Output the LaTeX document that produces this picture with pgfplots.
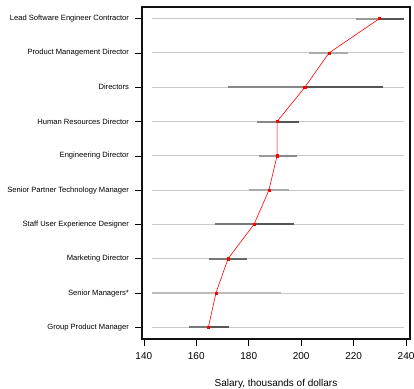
\documentclass[border=0pt]{standalone}
\usepackage{pgfplots}
\pgfplotsset{compat=1.18}
\usepackage{fontspec}
\setmainfont{Liberation Sans}
\definecolor{refline}{HTML}{C8C8C8}
\definecolor{gA}{HTML}{999999}
\definecolor{gB}{HTML}{555555}
\definecolor{gC}{HTML}{AAAAAA}
\definecolor{gD}{HTML}{888888}
\definecolor{gE}{HTML}{777777}
\definecolor{gF}{HTML}{666666}
\definecolor{gG}{HTML}{BBBBBB}
\definecolor{boxc}{HTML}{111111}
\begin{document}
\begin{tikzpicture}
\useasboundingbox (-142pt,-49pt) rectangle (272pt,339pt);
\begin{axis}[
  at={(0pt,0pt)}, anchor=south west,
  scale only axis,
  width=268pt, height=332pt,
  xmin=139.3, xmax=241.5,
  ymin=-0.34, ymax=9.34,
  clip=false,
  xtick={140,160,180,200,220,240},
  ytick={0,1,2,3,4,5,6,7,8,9},
  yticklabels={Group Product Manager, Senior Managers*, Marketing Director, Staff User Experience Designer, Senior Partner Technology Manager, Engineering Director, Human Resources Director, Directors, Product Management Director, Lead Software Engineer Contractor},
  tick align=outside,
  xtick pos=left, ytick pos=left,
  major tick length=7pt,
  tick style={black, line width=0.6pt},
  /pgf/number format/assume math mode=true,
  xticklabel style={font=\fontsize{10}{12}\selectfont, yshift=-3pt},
  yticklabel style={font=\fontsize{7.6}{9}\selectfont, xshift=-2.5pt},
  xlabel={Salary, thousands of dollars},
  xlabel style={font=\fontsize{10}{12}\selectfont, at={(axis description cs:0.5,0)}, anchor=base, yshift=-47pt},
]
% reference lines
\addplot[refline, line width=1pt, forget plot] coordinates {(143.2,9) (239.2,9)};
\addplot[refline, line width=1pt, forget plot] coordinates {(143.2,8) (239.2,8)};
\addplot[refline, line width=1pt, forget plot] coordinates {(143.2,7) (239.2,7)};
\addplot[refline, line width=1pt, forget plot] coordinates {(143.2,6) (239.2,6)};
\addplot[refline, line width=1pt, forget plot] coordinates {(143.2,5) (239.2,5)};
\addplot[refline, line width=1pt, forget plot] coordinates {(143.2,4) (239.2,4)};
\addplot[refline, line width=1pt, forget plot] coordinates {(143.2,3) (239.2,3)};
\addplot[refline, line width=1pt, forget plot] coordinates {(143.2,2) (239.2,2)};
\addplot[refline, line width=1pt, forget plot] coordinates {(143.2,1) (239.2,1)};
\addplot[refline, line width=1pt, forget plot] coordinates {(143.2,0) (239.2,0)};
% intervals: lower half and upper half
\addplot[gA, line width=2pt] coordinates {(221.0,9) (229.8,9)};
\addplot[gB, line width=2pt] coordinates {(229.8,9) (239.2,9)};
\addplot[gC, line width=2pt] coordinates {(203.1,8) (210.6,8)};
\addplot[gC, line width=2pt] coordinates {(210.6,8) (218.0,8)};
\addplot[gD, line width=2pt] coordinates {(172.0,7) (201.4,7)};
\addplot[gB, line width=2pt] coordinates {(201.4,7) (231.1,7)};
\addplot[gD, line width=2pt] coordinates {(183.0,6) (190.8,6)};
\addplot[gB, line width=2pt] coordinates {(190.8,6) (199.3,6)};
\addplot[gA, line width=2pt] coordinates {(184.0,5) (190.8,5)};
\addplot[gD, line width=2pt] coordinates {(190.8,5) (198.3,5)};
\addplot[gC, line width=2pt] coordinates {(180.1,4) (187.7,4)};
\addplot[gC, line width=2pt] coordinates {(187.7,4) (195.2,4)};
\addplot[gE, line width=2pt] coordinates {(167.0,3) (182.0,3)};
\addplot[gB, line width=2pt] coordinates {(182.0,3) (197.2,3)};
\addplot[gE, line width=2pt] coordinates {(165.0,2) (172.1,2)};
\addplot[gF, line width=2pt] coordinates {(172.1,2) (179.3,2)};
\addplot[gG, line width=2pt] coordinates {(143.2,1) (167.5,1)};
\addplot[gG, line width=2pt] coordinates {(167.5,1) (192.3,1)};
\addplot[gE, line width=2pt] coordinates {(157.1,0) (164.6,0)};
\addplot[gB, line width=2pt] coordinates {(164.6,0) (172.4,0)};
% medians
\addplot[red, line width=0.6pt, mark=square*, mark size=1.1pt, mark options={fill=red}] coordinates {
(229.8,9) (210.6,8) (201.4,7) (190.8,6) (190.8,5) (187.7,4) (182.0,3) (172.1,2) (167.5,1) (164.6,0)};
\draw[boxc, line width=1.2pt] (axis cs:139.3,-0.34) rectangle (axis cs:241.5,9.34);
\end{axis}
\end{tikzpicture}
\end{document}
